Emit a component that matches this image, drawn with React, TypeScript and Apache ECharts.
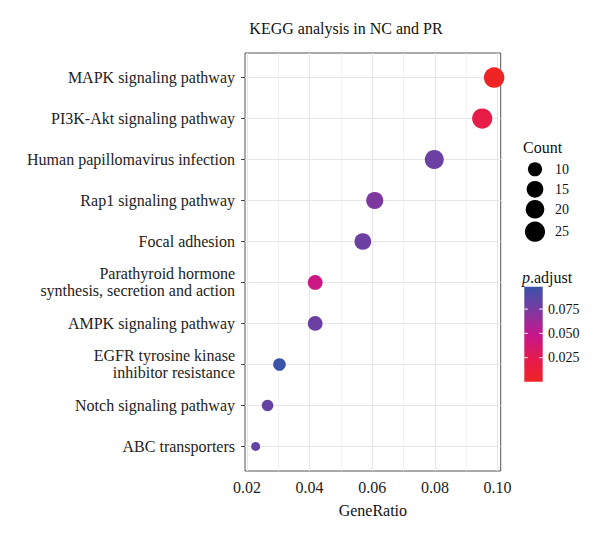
import React, { useEffect, useRef } from "react";
import * as echarts from "echarts";

const categories = [
  "MAPK signaling pathway",
  "PI3K-Akt signaling pathway",
  "Human papillomavirus infection",
  "Rap1 signaling pathway",
  "Focal adhesion",
  "Parathyroid hormone\nsynthesis, secretion and action",
  "AMPK signaling pathway",
  "EGFR tyrosine kinase\ninhibitor resistance",
  "Notch signaling pathway",
  "ABC transporters",
];
const geneRatio = [0.0989, 0.0951, 0.0798, 0.0608, 0.057, 0.0418, 0.0418, 0.0304, 0.0266, 0.0228];
const counts = [26, 25, 21, 16, 15, 11, 11, 8, 7, 6];
const pAdjust = [0.0005, 0.02, 0.08, 0.073, 0.079, 0.046, 0.08, 0.098, 0.082, 0.083];

const xTicks = [0.02, 0.04, 0.06, 0.08, 0.1];
const xMinorTicks = [0.03, 0.05, 0.07, 0.09];
const countLegend = [10, 15, 20, 25];
const pTicks = [0.025, 0.05, 0.075];

const P_MIN = 0.0003;
const P_MAX = 0.098;
const C_MIN = 6;
const C_MAX = 26;
const gradColors = ["#ef2424", "#e51a50", "#c6168c", "#7c3aa0", "#3a52a8"];

const FONT = "'Liberation Serif', 'DejaVu Serif', serif";

function sizeOf(c: number) {
  const t = Math.max(0, Math.min(1, (c - C_MIN) / (C_MAX - C_MIN)));
  return 9 + Math.sqrt(t) * 11.5;
}

function txt(text: string, x: number, y: number, size: number, align: string, extra: any = {}) {
  return {
    type: "text",
    x,
    y,
    style: {
      text,
      fontSize: size,
      fontFamily: FONT,
      font: `${size}px ${FONT}`,
      fill: "#111",
      align,
      verticalAlign: "middle",
      ...extra,
    },
  };
}

export default function App() {
  const ref = useRef<HTMLDivElement>(null);
  useEffect(() => {
    if (!ref.current) return;
    const chart = echarts.init(ref.current, undefined, { renderer: "svg" });

    const gridLeft = 245;
    const gridRight = 600 - 500.7;
    const gridTop = 53;
    const gridBottom = 536 - 471;

    const cbX = 524.3;
    const cbW = 18.4;
    const cbTop = 286.7;
    const cbBottom = 381.7;
    const cbY = (v: number) => cbBottom - ((v - P_MIN) / (P_MAX - P_MIN)) * (cbBottom - cbTop);

    const legendY = [169.3, 189.3, 209.3, 231.7];

    const graphics: any[] = [
      txt("KEGG analysis in NC and PR", 346, 28, 16, "center"),
      txt("Count", 523, 147, 16, "left"),
      txt("{i|p}.adjust", 522, 277, 16, "left", {
        rich: { i: { fontStyle: "italic", fontSize: 16, fontFamily: FONT, fill: "#111" } },
      }),
      {
        type: "rect",
        shape: { x: cbX, y: cbTop, width: cbW, height: cbBottom - cbTop },
        style: {
          fill: new echarts.graphic.LinearGradient(
            0, 1, 0, 0,
            gradColors.map((c, i) => ({ offset: i / (gradColors.length - 1), color: c }))
          ),
        },
      },
    ];
    countLegend.forEach((c, i) => {
      graphics.push({
        type: "circle",
        shape: { cx: 535, cy: legendY[i], r: sizeOf(c) / 2 },
        style: { fill: "#000" },
      });
      graphics.push(txt(String(c), 555, legendY[i], 14, "left"));
    });
    pTicks.forEach((p) => {
      const y = cbY(p);
      graphics.push({ type: "line", shape: { x1: cbX, y1: y, x2: cbX + 3.5, y2: y }, style: { stroke: "#fff", lineWidth: 1 } });
      graphics.push({ type: "line", shape: { x1: cbX + cbW - 3.5, y1: y, x2: cbX + cbW, y2: y }, style: { stroke: "#fff", lineWidth: 1 } });
      graphics.push(txt(p.toFixed(3), 548, y, 14, "left"));
    });

    const data = categories.map((_, i) => [geneRatio[i], i, counts[i], pAdjust[i]]);
    const yIdx = categories.map((_, i) => i);

    chart.setOption({
      animation: false,
      backgroundColor: "#fff",
      grid: {
        left: gridLeft,
        right: gridRight,
        top: gridTop,
        bottom: gridBottom,
        show: true,
        borderColor: "#555",
        borderWidth: 1,
        backgroundColor: "#fff",
      },
      xAxis: {
        type: "value",
        min: 0.0194,
        max: 0.101,
        name: "GeneRatio",
        nameLocation: "middle",
        nameGap: 31,
        nameTextStyle: { fontSize: 16, fontFamily: FONT, color: "#111" },
        axisLine: { show: false },
        axisTick: { show: true, length: 4, lineStyle: { color: "#444" }, customValues: xTicks },
        axisLabel: {
          customValues: xTicks,
          formatter: (v: number) => v.toFixed(2),
          fontSize: 16,
          fontFamily: FONT,
          color: "#222",
          margin: 8,
        },
        splitLine: { show: false },
      },
      yAxis: {
        type: "value",
        min: -0.6,
        max: 9.6,
        inverse: true,
        axisLine: { show: false },
        axisTick: { show: true, length: 4, lineStyle: { color: "#444" }, customValues: yIdx },
        axisLabel: {
          customValues: yIdx,
          formatter: (v: number) => categories[Math.round(v)] ?? "",
          fontSize: 16,
          lineHeight: 17,
          fontFamily: FONT,
          color: "#222",
          margin: 10,
          align: "right",
        },
        splitLine: { show: false },
      },
      visualMap: {
        show: false,
        type: "continuous",
        seriesIndex: 2,
        dimension: 3,
        min: P_MIN,
        max: P_MAX,
        inRange: { color: gradColors },
      },
      series: [
        {
          type: "scatter",
          data: [],
          z: 1,
          silent: true,
          markLine: {
            z: 1,
            silent: true,
            symbol: "none",
            animation: false,
            label: { show: false },
            lineStyle: { color: "#ececec", width: 0.7, type: "solid" },
            data: xMinorTicks.map((v) => ({ xAxis: v })),
          },
        },
        {
          type: "scatter",
          data: [],
          z: 1,
          silent: true,
          markLine: {
            z: 1,
            silent: true,
            symbol: "none",
            animation: false,
            label: { show: false },
            lineStyle: { color: "#e6e6e6", width: 1.2, type: "solid" },
            data: [...xTicks.map((v) => ({ xAxis: v })), ...yIdx.map((v) => ({ yAxis: v }))],
          },
        },
        {
          type: "scatter",
          z: 5,
          clip: false,
          data,
          symbol: "circle",
          symbolSize: (val: number[]) => sizeOf(val[2]),
          itemStyle: { opacity: 1 },
          emphasis: { disabled: true },
        },
      ],
      graphic: graphics,
    });
    return () => chart.dispose();
  }, []);
  return (
    <div
      ref={ref}
      style={{ position: "fixed", left: 0, top: 0, width: 600, height: 536, background: "#fff" }}
    />
  );
}
